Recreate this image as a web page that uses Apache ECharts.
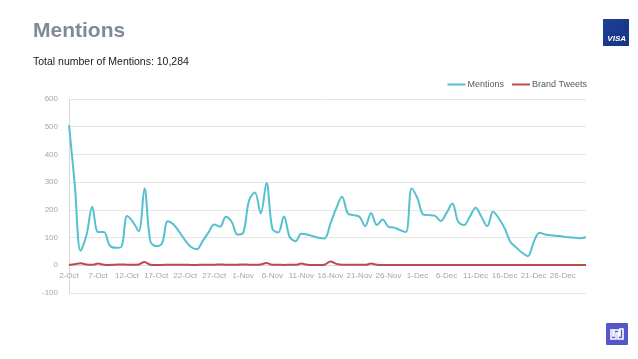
<!DOCTYPE html>
<html><head><meta charset="utf-8">
<script src="https://cdn.jsdelivr.net/npm/echarts@6/dist/echarts.min.js"></script>
<style>html,body{margin:0;padding:0;background:#fff;}#c{width:638px;height:359px;}</style>
</head><body><div id="c"></div>
<script>
var startDate = new Date(2015, 9, 2);
var months = ['Jan','Feb','Mar','Apr','May','Jun','Jul','Aug','Sep','Oct','Nov','Dec'];
var categories = [];
for (var k = 0; k < 90; k++) {
  var d = new Date(startDate.getFullYear(), startDate.getMonth(), startDate.getDate() + k);
  categories.push(d.getDate() + '-' + months[d.getMonth()]);
}
var mentions = [506,290,52,108,211,120,120,72,63,66,
  178,157,123,277,87,69,78,159,147,120,
  90,66,58,87,118,147,139,175,157,111,
  118,235,263,187,297,133,118,176,102,87,
  114,111,105,99,97,150,205,247,187,181,
  175,141,189,145,165,139,136,127,120,277,
  241,183,181,178,160,189,223,157,145,175,
  208,175,141,193,169,133,84,64,45,33,
  84,117,111,108,106,104,101,99,98,101];
var brandTweets = [1,4,7,3,2,6,2,1,2,3,
  2,2,3,12,2,1,1,2,2,2,
  2,1,1,2,2,2,3,2,2,2,
  3,2,2,3,8,2,2,1,2,2,
  6,2,1,1,2,14,5,2,2,2,
  2,2,6,2,1,1,1,1,1,1,
  1,1,1,1,1,1,1,1,1,1,
  1,1,1,1,1,1,1,1,1,1,
  1,1,1,1,1,1,1,1,1,1];
var yTicks = {min: -100, max: 600, interval: 100};
var title = 'Mentions';
var subtitle = 'Total number of Mentions: 10,284';

var gridTop = 99, gridBottomPx = 293;
var zeroY = gridTop + (gridBottomPx - gridTop) * (yTicks.max / (yTicks.max - yTicks.min));

var chart = echarts.init(document.getElementById('c'), null, {renderer: 'canvas'});
chart.setOption({
  animation: false,
  textStyle: {fontFamily: 'Liberation Sans, Arial, sans-serif'},
  title: [{
    text: title, left: 33, top: 21, padding: 0,
    textStyle: {fontSize: 21, fontWeight: 'bold', color: '#7f8b97', fontFamily: 'Liberation Sans, Arial, sans-serif'}
  }, {
    text: subtitle, left: 33, top: 57, padding: 0,
    textStyle: {fontSize: 10.5, fontWeight: 'normal', color: '#1a1a1a', fontFamily: 'Liberation Sans, Arial, sans-serif'}
  }],
  legend: {
    right: 46, top: 75, itemWidth: 18, itemHeight: 2, itemGap: 8, icon: 'rect',
    textStyle: {fontSize: 9, color: '#595959', padding: [0,0,0,-3]},
    data: ['Mentions', 'Brand Tweets']
  },
  grid: {left: 69, right: 52, top: gridTop, bottom: 359 - gridBottomPx, containLabel: false},
  xAxis: {
    type: 'category', data: categories, boundaryGap: false,
    offset: -(gridBottomPx - zeroY),
    axisLine: {show: true, onZero: false, lineStyle: {color: '#d9d9d9'}},
    axisTick: {show: false},
    axisLabel: {interval: 4, fontSize: 8, color: '#a6a6a6', margin: 7},
    splitLine: {show: false}
  },
  yAxis: {
    type: 'value', min: yTicks.min, max: yTicks.max, interval: yTicks.interval,
    axisLine: {show: true, lineStyle: {color: '#d9d9d9'}},
    axisTick: {show: false},
    axisLabel: {fontSize: 8, color: '#a6a6a6', margin: 11},
    splitLine: {lineStyle: {color: '#e6e6e6'}}
  },
  series: [{
    name: 'Mentions', type: 'line', data: mentions, smooth: 0.35, showSymbol: false,
    lineStyle: {color: '#56c1ce', width: 2}, itemStyle: {color: '#56c1ce'}
  }, {
    name: 'Brand Tweets', type: 'line', data: brandTweets, smooth: 0.35, showSymbol: false,
    lineStyle: {color: '#be4b48', width: 2}, itemStyle: {color: '#be4b48'}
  }],
  graphic: [
    {type: 'rect', shape: {x: 603, y: 19, width: 26, height: 27},
      style: {fill: new echarts.graphic.LinearGradient(0, 0, 1, 1, [{offset: 0, color: '#1e3f98'}, {offset: 1, color: '#14357f'}])}},
    {type: 'text', style: {x: 626, y: 43, text: 'VISA', fill: '#ffffff', font: 'italic bold 8px Liberation Sans, Arial, sans-serif', textAlign: 'right', textVerticalAlign: 'bottom'}},
    {type: 'rect', shape: {x: 606, y: 323, width: 22, height: 22, r: 1}, style: {fill: '#5458c9'}},
    {type: 'polyline', shape: {points: [[611,329],[611,339],[616,339],[616,333],[618,333],[618,339],[623,339],[623,329],[620,329],[620,336],[619,336],[619,330],[614,330],[614,336],[613,336],[613,329]]},
      style: {stroke: '#ffffff', lineWidth: 1.6, fill: null}}
  ]
});
</script></body></html>
